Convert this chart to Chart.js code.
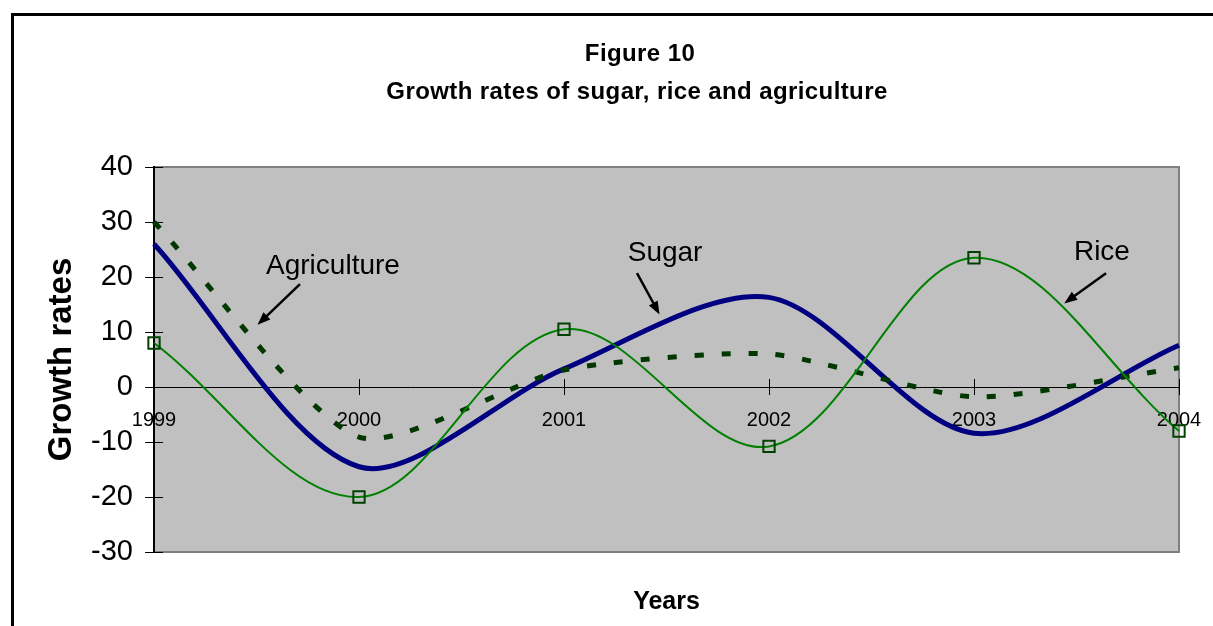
<!DOCTYPE html>
<html>
<head>
<meta charset="utf-8">
<title>Figure 10</title>
<script src="https://cdn.jsdelivr.net/npm/chart.js@4.4.1/dist/chart.umd.min.js"></script>
<style>
  html, body { margin: 0; padding: 0; background: #fff; }
  #wrap { width: 1213px; height: 626px; }
</style>
</head>
<body>
<div id="wrap"><canvas id="myChart" width="1213" height="626"></canvas></div>
<script>
// data
const years = ['1999', '2000', '2001', '2002', '2003', '2004'];
const sugar = [26, -14.5, 3.3, 16.3, -8.4, 7.6];
const rice = [8, -20, 10.5, -10.8, 23.5, -8];
const agriculture = [30, -9.1, 3.1, 6, -1.8, 3.5];
const yTicks = [-30, -20, -10, 0, 10, 20, 30, 40];
const titleLines = ['Figure 10', 'Growth rates of sugar, rice and agriculture'];

// callouts: text + arrow, in data units (x = category index, y = value)
const callouts = [
  { text: 'Agriculture', tx: 0.873, ty: 22, from: [0.712, 18.7], to: [0.505, 11.3] },
  { text: 'Sugar', tx: 2.493, ty: 24.4, from: [2.356, 20.7], to: [2.466, 13.2] },
  { text: 'Rice', tx: 4.624, ty: 24.5, from: [4.644, 20.7], to: [4.44, 15.2] }
];

const FONT = '"Liberation Sans", Arial, sans-serif';

// frame, plot background, zero line, year labels, callouts
const excelLook = {
  id: 'excelLook',
  beforeDraw(chart) {
    const ctx = chart.ctx, a = chart.chartArea;
    ctx.save();
    ctx.fillStyle = '#fff';
    ctx.fillRect(0, 0, chart.width, chart.height);
    ctx.strokeStyle = '#000';
    ctx.lineWidth = 3;
    ctx.strokeRect(12.5, 14.5, 1300, 700);
    ctx.fillStyle = '#c0c0c0';
    ctx.fillRect(a.left, a.top, a.right - a.left, a.bottom - a.top);
    ctx.strokeStyle = '#808080';
    ctx.lineWidth = 2;
    ctx.strokeRect(a.left, a.top, a.right - a.left, a.bottom - a.top);

    // title
    ctx.fillStyle = '#000';
    ctx.font = 'bold 24px ' + FONT;
    ctx.letterSpacing = '0.4px';
    ctx.textAlign = 'center';
    ctx.textBaseline = 'middle';
    ctx.fillText(titleLines[0], 640, 54);
    ctx.fillText(titleLines[1], 637, 92);
    ctx.restore();
  },
  beforeDatasetsDraw(chart) {
    const ctx = chart.ctx, a = chart.chartArea;
    const x = chart.scales.x, y = chart.scales.y;
    const y0 = y.getPixelForValue(0);
    ctx.save();
    ctx.strokeStyle = '#000';
    ctx.lineWidth = 1;
    ctx.beginPath();
    ctx.moveTo(a.left, y0 + 0.5);
    ctx.lineTo(a.right, y0 + 0.5);
    // y ticks reach into the plot
    yTicks.forEach(v => {
      const py = Math.round(y.getPixelForValue(v)) + 0.5;
      ctx.moveTo(a.left, py);
      ctx.lineTo(a.left + 9, py);
    });
    // category ticks cross the zero line
    years.forEach((lab, i) => {
      const px = Math.round(x.getPixelForValue(i)) + 0.5;
      ctx.moveTo(px, y0 - 8);
      ctx.lineTo(px, y0 + 8);
    });
    ctx.stroke();
    ctx.fillStyle = '#000';
    ctx.font = '20px ' + FONT;
    ctx.textAlign = 'center';
    ctx.textBaseline = 'middle';
    years.forEach((lab, i) => {
      ctx.fillText(lab, x.getPixelForValue(i), y0 + 33);
    });
    ctx.restore();
  },
  afterDatasetsDraw(chart) {
    const ctx = chart.ctx;
    const x = chart.scales.x, y = chart.scales.y;
    ctx.save();
    ctx.fillStyle = '#000';
    ctx.strokeStyle = '#000';
    ctx.font = '28px ' + FONT;
    ctx.textAlign = 'center';
    ctx.textBaseline = 'middle';
    callouts.forEach(c => {
      ctx.fillText(c.text, x.getPixelForValue(c.tx), y.getPixelForValue(c.ty));
      const x1 = x.getPixelForValue(c.from[0]), y1 = y.getPixelForValue(c.from[1]);
      const x2 = x.getPixelForValue(c.to[0]), y2 = y.getPixelForValue(c.to[1]);
      const ang = Math.atan2(y2 - y1, x2 - x1);
      const head = 13;
      ctx.lineWidth = 2.5;
      ctx.beginPath();
      ctx.moveTo(x1, y1);
      ctx.lineTo(x2 - Math.cos(ang) * head * 0.8, y2 - Math.sin(ang) * head * 0.8);
      ctx.stroke();
      ctx.beginPath();
      ctx.moveTo(x2, y2);
      ctx.lineTo(x2 - head * Math.cos(ang) + 5 * Math.sin(ang), y2 - head * Math.sin(ang) - 5 * Math.cos(ang));
      ctx.lineTo(x2 - head * Math.cos(ang) - 5 * Math.sin(ang), y2 - head * Math.sin(ang) + 5 * Math.cos(ang));
      ctx.closePath();
      ctx.fill();
    });
    ctx.restore();
  }
};

const myChartElem = document.getElementById('myChart').getContext('2d');
const myChart = new Chart(myChartElem, {
  type: 'line',
  data: {
    labels: years,
    datasets: [
      {
        label: 'Rice',
        data: rice,
        borderColor: '#008000',
        borderWidth: 2,
        pointStyle: 'rect',
        pointRadius: 8,
        pointBorderColor: '#004000',
        pointBorderWidth: 2,
        pointBackgroundColor: 'rgba(0,0,0,0)',
        tension: 0.35
      },
      {
        label: 'Agriculture',
        data: agriculture,
        borderColor: '#003800',
        borderWidth: 5,
        borderDash: [9, 18],
        pointRadius: 0,
        tension: 0.22
      },
      {
        label: 'Sugar',
        data: sugar,
        borderColor: '#000080',
        borderWidth: 5,
        pointRadius: 0,
        tension: 0.3
      }
    ]
  },
  options: {
    responsive: false,
    animation: false,
    layout: { padding: { top: 167, right: 34, left: 0, bottom: 0 } },
    plugins: {
      legend: { display: false },
      tooltip: { enabled: false }
    },
    scales: {
      x: {
        ticks: { display: false },
        grid: { display: false },
        border: { display: false },
        afterFit(scale) { scale.height = 74; },
        title: {
          display: true,
          text: 'Years',
          color: '#000',
          font: { family: FONT, size: 25, weight: 'bold' },
          padding: { top: 0, bottom: 9 }
        }
      },
      y: {
        min: -30,
        max: 40,
        afterBuildTicks(scale) { scale.ticks = yTicks.map(v => ({ value: v })); },
        afterFit(scale) { scale.width = 154; },
        ticks: {
          color: '#000',
          padding: 12,
          font: { family: FONT, size: 29 }
        },
        grid: {
          drawOnChartArea: false,
          color: '#000',
          tickLength: 9
        },
        border: { color: '#000', width: 2 },
        title: {
          display: true,
          text: 'Growth rates',
          color: '#000',
          font: { family: FONT, size: 33, weight: 'bold' },
          padding: { top: 42, bottom: 0 }
        }
      }
    }
  },
  plugins: [excelLook]
});
</script>
</body>
</html>
